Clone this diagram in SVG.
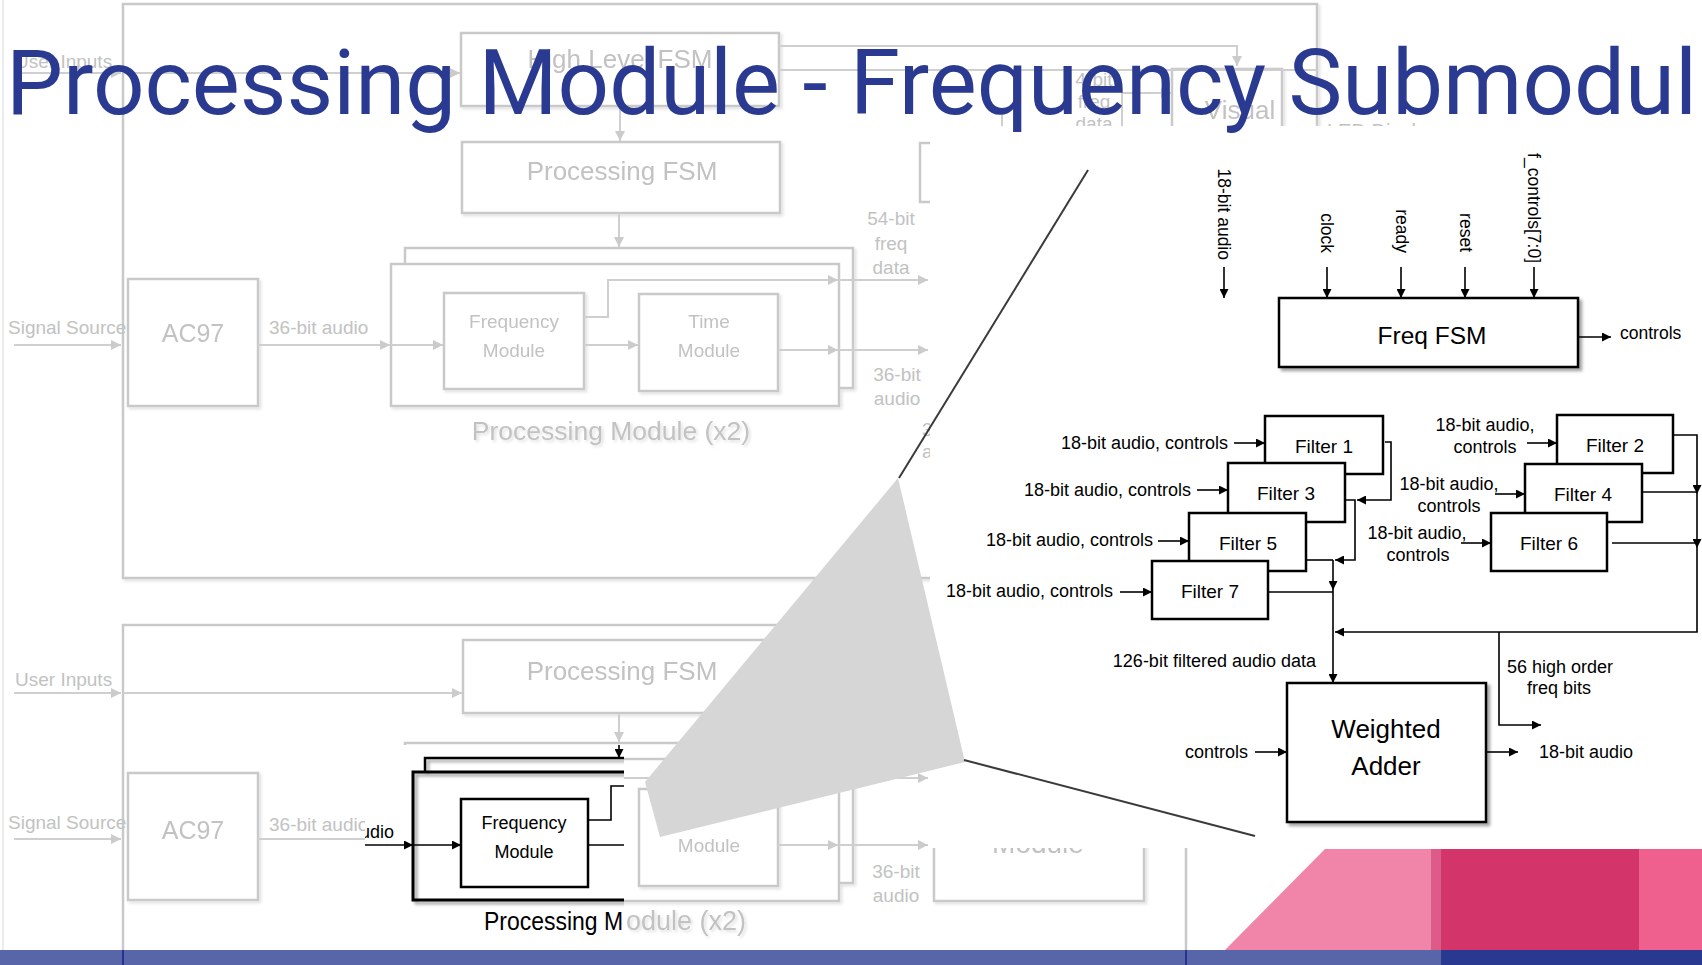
<svg xmlns="http://www.w3.org/2000/svg" width="1702" height="965" viewBox="0 0 1702 965">
  <defs>
    <style>
      .gl { stroke: #cfcfcf; stroke-width: 2; fill: none; }
      .gb { fill: #fff; stroke: #c9c9c9; stroke-width: 2.5; }
      .gt { fill: #c2c2c2; font-family: "Liberation Sans", Arial, sans-serif; }
      .bl { stroke: #000; stroke-width: 1.6; fill: none; }
      .bb { fill: #fff; stroke: #000; stroke-width: 2.5; }
      .bt { fill: #000; font-family: "Liberation Sans", Arial, sans-serif; }
      .lab { font-size: 18px; }
      .mid { text-anchor: middle; }
      .end { text-anchor: end; }
    </style>
    <marker id="ab" viewBox="0 0 10 10" refX="10" refY="5" markerWidth="10" markerHeight="9" markerUnits="userSpaceOnUse" orient="auto">
      <path d="M0,0 L10,5 L0,10 Z" fill="#000"/>
    </marker>
    <marker id="ag" viewBox="0 0 10 10" refX="10" refY="5" markerWidth="11" markerHeight="10" markerUnits="userSpaceOnUse" orient="auto">
      <path d="M0,0 L10,5 L0,10 Z" fill="#cbcbcb"/>
    </marker>
    <filter id="sh" x="-10%" y="-10%" width="130%" height="140%">
      <feDropShadow dx="3" dy="3" stdDeviation="1.6" flood-color="#000" flood-opacity="0.35"/>
    </filter>
    <filter id="shg" x="-10%" y="-10%" width="130%" height="140%">
      <feDropShadow dx="2" dy="2" stdDeviation="1.5" flood-color="#000" flood-opacity="0.12"/>
    </filter>
    <clipPath id="zoomclip">
      <rect x="365" y="745" width="259" height="203"/>
    </clipPath>
  </defs>

  <rect x="0" y="0" width="1702" height="965" fill="#fff"/>
  <line x1="3" y1="0" x2="3" y2="950" stroke="#ececec" stroke-width="2"/>

  <!-- faded system overview: upper copy -->
  <g id="sys-upper-frame" filter="url(#shg)">
    <rect class="gb" x="123" y="4" width="1194" height="574" fill="none"/>
  </g>
  <g id="sys-upper-hlfsm" filter="url(#shg)">
    <rect class="gb" x="461" y="33" width="318" height="73"/>
    <text class="gt mid" x="620" y="68" font-size="26">High Level FSM</text>
  </g>
  <g id="sys-upper-procfsm" filter="url(#shg)">
    <rect class="gb" x="462" y="142" width="318" height="71"/>
    <text class="gt mid" x="622" y="180" font-size="26">Processing FSM</text>
  </g>
  <g id="sys-upper-ac97" filter="url(#shg)">
    <rect class="gb" x="128" y="279" width="130" height="127"/>
    <text class="gt mid" x="193" y="342" font-size="25">AC97</text>
  </g>
  <g id="sys-upper-procmod" filter="url(#shg)">
    <rect class="gb" x="405" y="248" width="448" height="140"/>
    <rect class="gb" x="391" y="264" width="448" height="142"/>
    <text class="gt mid" x="611" y="440" font-size="26.5">Processing Module (x2)</text>
  </g>
  <g id="sys-upper-freq" filter="url(#shg)">
    <rect class="gb" x="444" y="293" width="140" height="96"/>
    <text class="gt mid" x="514" y="328" font-size="19">Frequency</text>
    <text class="gt mid" x="514" y="357" font-size="19">Module</text>
  </g>
  <g id="sys-upper-time" filter="url(#shg)">
    <rect class="gb" x="639" y="294" width="139" height="97"/>
    <text class="gt mid" x="709" y="328" font-size="19">Time</text>
    <text class="gt mid" x="709" y="357" font-size="19">Module</text>
  </g>
  <g id="sys-upper-visual" filter="url(#shg)">
    <rect class="gb" x="1172" y="69" width="110" height="80"/>
    <text class="gt mid" x="1240" y="119" font-size="26">Visual</text>
  </g>
  <g id="sys-upper-side">
    <rect class="gb" x="920" y="143" width="60" height="59"/>
    <line class="gl" x1="1002" y1="110" x2="1002" y2="130"/>
  </g>
  <g id="sys-upper-labels" class="gt" font-size="19">
    <text x="15" y="68">User Inputs</text>
    <text x="8" y="334">Signal Source</text>
    <text x="269" y="334">36-bit audio</text>
    <text class="mid" x="891" y="225">54-bit</text>
    <text class="mid" x="891" y="250">freq</text>
    <text class="mid" x="891" y="274">data</text>
    <text class="mid" x="897" y="381">36-bit</text>
    <text class="mid" x="897" y="405">audio</text>
    <text x="922" y="436">36-bit</text>
    <text x="922" y="458">audio</text>
    <text class="mid" x="1094" y="86">4-bit</text>
    <text class="mid" x="1094" y="108">freq</text>
    <text class="mid" x="1094" y="130">data</text>
    <text x="1327" y="138" font-size="20">LED Display</text>
  </g>

  <!-- faded system overview: lower copy -->
  <g id="sys-lower-frame">
    <rect class="gb" x="123" y="625" width="1063" height="360" fill="none"/>
  </g>
  <g id="sys-lower-procfsm" filter="url(#shg)">
    <rect class="gb" x="463" y="640" width="316" height="73"/>
    <text class="gt mid" x="622" y="680" font-size="26">Processing FSM</text>
  </g>
  <g id="sys-lower-ac97" filter="url(#shg)">
    <rect class="gb" x="128" y="773" width="130" height="127"/>
    <text class="gt mid" x="193" y="839" font-size="25">AC97</text>
  </g>
  <g id="sys-lower-procmod" filter="url(#shg)">
    <rect class="gb" x="405" y="743" width="448" height="140"/>
    <rect class="gb" x="391" y="759" width="448" height="142"/>
    <text class="gt" x="626" y="930" font-size="27">odule (x2)</text>
  </g>
  <g id="sys-lower-time" filter="url(#shg)">
    <rect class="gb" x="639" y="789" width="139" height="97"/>
    <text class="gt mid" x="709" y="852" font-size="19">Module</text>
  </g>
  <g id="sys-lower-out" filter="url(#shg)">
    <rect class="gb" x="934" y="760" width="210" height="141"/>
    <text class="gt mid" x="1038" y="853" font-size="28">Module</text>
  </g>
  <g id="sys-lower-labels" class="gt" font-size="19">
    <text x="15" y="686">User Inputs</text>
    <text x="8" y="829">Signal Source</text>
    <text x="269" y="831">36-bit audio</text>
    <text class="mid" x="896" y="878">36-bit</text>
    <text class="mid" x="896" y="902">audio</text>
  </g>

  <!-- faded overview connectors -->
  <g id="sys-connectors" class="gl">
    <path d="M14,73 H121" marker-end="url(#ag)"/>
    <path d="M123,73 H460" marker-end="url(#ag)"/>
    <path d="M779,46 H1237 V66" marker-end="url(#ag)"/>
    <path d="M779,70 H1317"/>
    <path d="M1122,130 V93 H1171" marker-end="url(#ag)"/>
    <path d="M620,106 V141" marker-end="url(#ag)"/>
    <path d="M619,213 V247" marker-end="url(#ag)"/>
    <path d="M14,345 H121" marker-end="url(#ag)"/>
    <path d="M258,345 H390" marker-end="url(#ag)"/>
    <path d="M391,345 H443" marker-end="url(#ag)"/>
    <path d="M584,345 H638" marker-end="url(#ag)"/>
    <path d="M584,317 H608 V280 H838" marker-end="url(#ag)"/>
    <path d="M839,280 H928" marker-end="url(#ag)"/>
    <path d="M778,350 H838" marker-end="url(#ag)"/>
    <path d="M839,350 H928" marker-end="url(#ag)"/>
    <path d="M14,693 H121" marker-end="url(#ag)"/>
    <path d="M123,693 H462" marker-end="url(#ag)"/>
    <path d="M619,713 V742" marker-end="url(#ag)"/>
    <path d="M14,839 H121" marker-end="url(#ag)"/>
    <path d="M258,839 H366"/>
    <path d="M624,778 H838" marker-end="url(#ag)"/>
    <path d="M839,778 H928" marker-end="url(#ag)"/>
    <path d="M778,845 H838" marker-end="url(#ag)"/>
    <path d="M839,845 H928" marker-end="url(#ag)"/>
  </g>

  <!-- footer band -->
  <g id="footer">
    <polygon points="1325,849 1431,849 1431,950 1225,950" fill="#f085a9"/>
    <rect x="1431" y="849" width="10" height="101" fill="#dc5b88"/>
    <rect x="1441" y="849" width="198" height="101" fill="#d3346a"/>
    <rect x="1639" y="849" width="63" height="101" fill="#f0608f"/>
    <rect x="0" y="950" width="1441" height="15" fill="#5865a8"/>
    <rect x="1441" y="950" width="261" height="15" fill="#2a3990"/>
    <line x1="123" y1="950" x2="123" y2="965" stroke="#27338a" stroke-width="2"/>
    <line x1="1186" y1="950" x2="1186" y2="965" stroke="#27338a" stroke-width="2"/>
  </g>

  <!-- frequency submodule detail panel -->
  <rect id="detail-panel" x="930" y="126" width="772" height="722" fill="#fff"/>

  <g id="freq-fsm">
    <rect class="bb" x="1279" y="298" width="299" height="69" filter="url(#sh)"/>
    <text class="bt mid" x="1432" y="344" font-size="24.5">Freq FSM</text>
  </g>
  <g id="fsm-inputs" class="bt" font-size="17.5">
    <text class="end" transform="translate(1218,260) rotate(90)">18-bit audio</text>
    <text class="end" transform="translate(1321,253) rotate(90)">clock</text>
    <text class="end" transform="translate(1396,253) rotate(90)">ready</text>
    <text class="end" transform="translate(1460,252) rotate(90)">reset</text>
    <text class="end" transform="translate(1528,263) rotate(90)">f_controls[7:0]</text>
    <text x="1620" y="339">controls</text>
  </g>

  <g id="filter-1"><rect class="bb" x="1265" y="416" width="118" height="58"/><text class="bt mid" x="1324" y="453" font-size="19">Filter 1</text></g>
  <g id="filter-3"><rect class="bb" x="1228" y="463" width="117" height="59"/><text class="bt mid" x="1286" y="500" font-size="19">Filter 3</text></g>
  <g id="filter-5"><rect class="bb" x="1189" y="513" width="117" height="58"/><text class="bt mid" x="1248" y="550" font-size="19">Filter 5</text></g>
  <g id="filter-7"><rect class="bb" x="1152" y="561" width="116" height="58"/><text class="bt mid" x="1210" y="598" font-size="19">Filter 7</text></g>
  <g id="filter-2"><rect class="bb" x="1557" y="415" width="116" height="58"/><text class="bt mid" x="1615" y="452" font-size="19">Filter 2</text></g>
  <g id="filter-4"><rect class="bb" x="1525" y="464" width="117" height="58"/><text class="bt mid" x="1583" y="501" font-size="19">Filter 4</text></g>
  <g id="filter-6"><rect class="bb" x="1491" y="513" width="116" height="58"/><text class="bt mid" x="1549" y="550" font-size="19">Filter 6</text></g>

  <g id="weighted-adder">
    <rect class="bb" x="1287" y="683" width="199" height="139" filter="url(#sh)"/>
    <text class="bt mid" x="1386" y="738" font-size="26">Weighted</text>
    <text class="bt mid" x="1386" y="775" font-size="26">Adder</text>
  </g>

  <g id="detail-labels" class="bt lab">
    <text class="end" x="1228" y="449">18-bit audio, controls</text>
    <text class="end" x="1191" y="496">18-bit audio, controls</text>
    <text class="end" x="1153" y="546">18-bit audio, controls</text>
    <text class="end" x="1113" y="597">18-bit audio, controls</text>
    <text class="mid" x="1485" y="431">18-bit audio,</text>
    <text class="mid" x="1485" y="453">controls</text>
    <text class="mid" x="1449" y="490">18-bit audio,</text>
    <text class="mid" x="1449" y="512">controls</text>
    <text class="mid" x="1417" y="539">18-bit audio,</text>
    <text class="mid" x="1418" y="561">controls</text>
    <text class="end" x="1316" y="667">126-bit filtered audio data</text>
    <text class="mid" x="1560" y="673">56 high order</text>
    <text class="mid" x="1559" y="694">freq bits</text>
    <text class="end" x="1248" y="758">controls</text>
    <text x="1539" y="758">18-bit audio</text>
  </g>

  <g id="detail-connectors" class="bl">
    <path d="M1224,267 V298" marker-end="url(#ab)"/>
    <path d="M1327,267 V298" marker-end="url(#ab)"/>
    <path d="M1401,267 V298" marker-end="url(#ab)"/>
    <path d="M1465,267 V298" marker-end="url(#ab)"/>
    <path d="M1534,267 V298" marker-end="url(#ab)"/>
    <path d="M1578,337 H1611" marker-end="url(#ab)"/>
    <path d="M1234,443 H1265" marker-end="url(#ab)"/>
    <path d="M1197,490 H1228" marker-end="url(#ab)"/>
    <path d="M1158,541 H1189" marker-end="url(#ab)"/>
    <path d="M1120,592 H1152" marker-end="url(#ab)"/>
    <path d="M1527,443 H1557" marker-end="url(#ab)"/>
    <path d="M1495,494 H1525" marker-end="url(#ab)"/>
    <path d="M1461,543 H1491" marker-end="url(#ab)"/>
    <path d="M1385,442 H1391 V500 H1357" marker-end="url(#ab)"/>
    <path d="M1345,500 H1355 V560 H1335" marker-end="url(#ab)"/>
    <path d="M1306,560 H1333"/>
    <path d="M1333,560 V590" marker-end="url(#ab)"/>
    <path d="M1268,592 H1333"/>
    <path d="M1333,590 V683" marker-end="url(#ab)"/>
    <path d="M1674,435 H1697 V494" marker-end="url(#ab)"/>
    <path d="M1697,494 V548" marker-end="url(#ab)"/>
    <path d="M1697,548 V632 H1335" marker-end="url(#ab)"/>
    <path d="M1642,492 H1697"/>
    <path d="M1612,543 H1697"/>
    <path d="M1499,632 V725 H1541" marker-end="url(#ab)"/>
    <path d="M1255,752 H1287" marker-end="url(#ab)"/>
    <path d="M1486,752 H1518" marker-end="url(#ab)"/>
  </g>

  <!-- enlarged frequency module crop -->
  <g id="freq-zoom" clip-path="url(#zoomclip)">
    <rect x="365" y="745" width="259" height="203" fill="#fff"/>
    <g id="zoom-procmod" filter="url(#sh)">
      <path d="M425,772 V758 H630" fill="none" stroke="#000" stroke-width="2.5"/>
      <path d="M630,772 H413 V900 H630" fill="none" stroke="#000" stroke-width="3"/>
    </g>
    <g id="zoom-freq">
      <rect class="bb" x="461" y="799" width="127" height="88"/>
      <text class="bt mid" x="524" y="829" font-size="18">Frequency</text>
      <text class="bt mid" x="524" y="858" font-size="18">Module</text>
    </g>
    <text class="bt end" x="394" y="838" font-size="18">udio</text>
    <text class="bt" x="484" y="930" font-size="25" textLength="139" lengthAdjust="spacingAndGlyphs">Processing M</text>
    <g id="zoom-connectors" class="bl">
      <path d="M619,745 V758" marker-end="url(#ab)"/>
      <path d="M360,845 H413" marker-end="url(#ab)"/>
      <path d="M413,845 H461" marker-end="url(#ab)"/>
      <path d="M588,820 H611 V786 H630"/>
      <path d="M588,845 H630"/>
    </g>
  </g>

  <!-- callout wedge -->
  <g id="callout">
    <polygon points="898,478 645,782 660,837 965,762" fill="#d6d6d6"/>
    <line x1="1088" y1="170" x2="899" y2="478" stroke="#3a3a3a" stroke-width="2"/>
    <line x1="964" y1="760" x2="1255" y2="836" stroke="#3a3a3a" stroke-width="2"/>
  </g>

  <text id="title" x="6" y="114" font-family="Roboto, 'Liberation Sans', sans-serif" font-size="90.5" fill="#2b3a91">Processing Module - Frequency Submodul</text>
</svg>
